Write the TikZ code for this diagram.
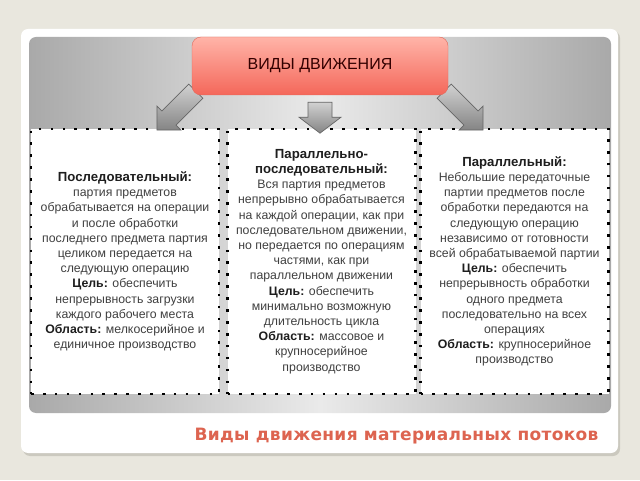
\documentclass[tikz,border=0pt]{standalone}
\usepackage{fontspec}
\setmainfont{Liberation Sans}
\newfontfamily\zagfont{DejaVu Sans}[LetterSpace=2]
\usetikzlibrary{calc}
\definecolor{fon}{HTML}{E9E7DE}
\definecolor{ten}{HTML}{CBC9BF}
\definecolor{panc}{HTML}{EAEAEA}
\definecolor{pane}{HTML}{A9A9A9}
\definecolor{krasn}{HTML}{E26B5D}
\definecolor{rozov}{HTML}{FFB4A8}
\definecolor{alyj}{HTML}{F4675A}
\definecolor{podpis}{HTML}{DD6450}
\definecolor{tekst}{HTML}{404040}
\definecolor{temn}{HTML}{1E1E1E}
\pgfdeclarelayer{zadnij}
\pgfdeclarelayer{verh}
\pgfsetlayers{zadnij,main,verh}
\begin{document}
\begin{tikzpicture}[x=1pt,y=1pt,
  ramka/.style={draw=black, fill=white, line width=2.6pt, dash pattern=on 2.6pt off 9.3pt,
    minimum width=188pt, minimum height=265pt, inner sep=0pt, align=center,
    font=\fontsize{12.3}{15.2}\selectfont, text=tekst},
  zagl/.style={draw=krasn, rounded corners=9pt, top color=rozov, bottom color=alyj,
    minimum width=256pt, minimum height=58pt, font=\fontsize{16}{18}\selectfont, text=black!80!red},
  strelkastil/.style={draw=black!60, line width=0.7pt, top color=black!18, bottom color=black!48},
  pics/strelka/.style args={#1/#2/#3/#4}{code={
    \draw[strelkastil] (0,-#2) -- (#1-#4,-#2) -- (#1-#4,-#3) -- (#1,0) -- (#1-#4,#3) -- (#1-#4,#2) -- (0,#2) -- cycle;
  }}]
\newcommand{\zg}[1]{{\bfseries\color{temn}#1}}
\newcommand{\zgb}[1]{{\bfseries\color{temn}\fontsize{13.2}{15.2}\selectfont #1}}

\begin{pgfonlayer}{zadnij}
% fon i kartochka
\fill[fon] (0,0) rectangle (640,480);
\fill[ten, rounded corners=7pt] (23,24) rectangle (620,449);
\fill[white, rounded corners=7pt] (21,27) rectangle (618,451);
\shade[left color=pane, right color=pane, middle color=panc, rounded corners=7pt] (29,67) rectangle (611,443);

% tri vida dvizhenija
\node[ramka] (posl) at (125,218.5) {\zgb{Последовательный:}\\
  партия предметов\\
  обрабатывается на операции\\
  и после обработки\\
  последнего предмета партия\\
  целиком передается на\\
  следующую операцию\\
  \zg{Цель:} обеспечить\\
  непрерывность загрузки\\
  каждого рабочего места\\
  \zg{Область:} мелкосерийное и\\
  единичное производство};
\node[ramka] (parposl) at (321.5,218.5) {\zgb{Параллельно-}\\
  \zgb{последовательный:}\\
  Вся партия предметов\\
  непрерывно обрабатывается\\
  на каждой операции, как при\\
  последовательном движении,\\
  но передается по операциям\\
  частями, как при\\
  параллельном движении\\
  \zg{Цель:} обеспечить\\
  минимально возможную\\
  длительность цикла\\
  \zg{Область:} массовое и\\
  крупносерийное\\
  производство};
\node[ramka] (paral) at (514.5,218.5) {\zgb{Параллельный:}\\
  Небольшие передаточные\\
  партии предметов после\\
  обработки передаются на\\
  следующую операцию\\
  независимо от готовности\\
  всей обрабатываемой партии\\
  \zg{Цель:} обеспечить\\
  непрерывность обработки\\
  одного предмета\\
  последовательно на всех\\
  операциях\\
  \zg{Область:} крупносерийное\\
  производство};
\end{pgfonlayer}

\begin{pgfonlayer}{verh}
\node[zagl] (vidy) at (320,414) {ВИДЫ ДВИЖЕНИЯ};
\end{pgfonlayer}

% strelki
\pic[rotate=-135] at ($(vidy.south west)+(4,4)$) {strelka=55/10/17/17};
\pic[rotate=-90] at ($(vidy.south)+(0,-7)$) {strelka=31/12/21/16};
\pic[rotate=-45] at ($(vidy.south east)+(-4,4)$) {strelka=55/10/17/17};

\node[anchor=east, text=podpis, font=\zagfont\bfseries\fontsize{17}{19}\selectfont] (nazv) at (602,44) {Виды движения материальных потоков};
\end{tikzpicture}
\end{document}
